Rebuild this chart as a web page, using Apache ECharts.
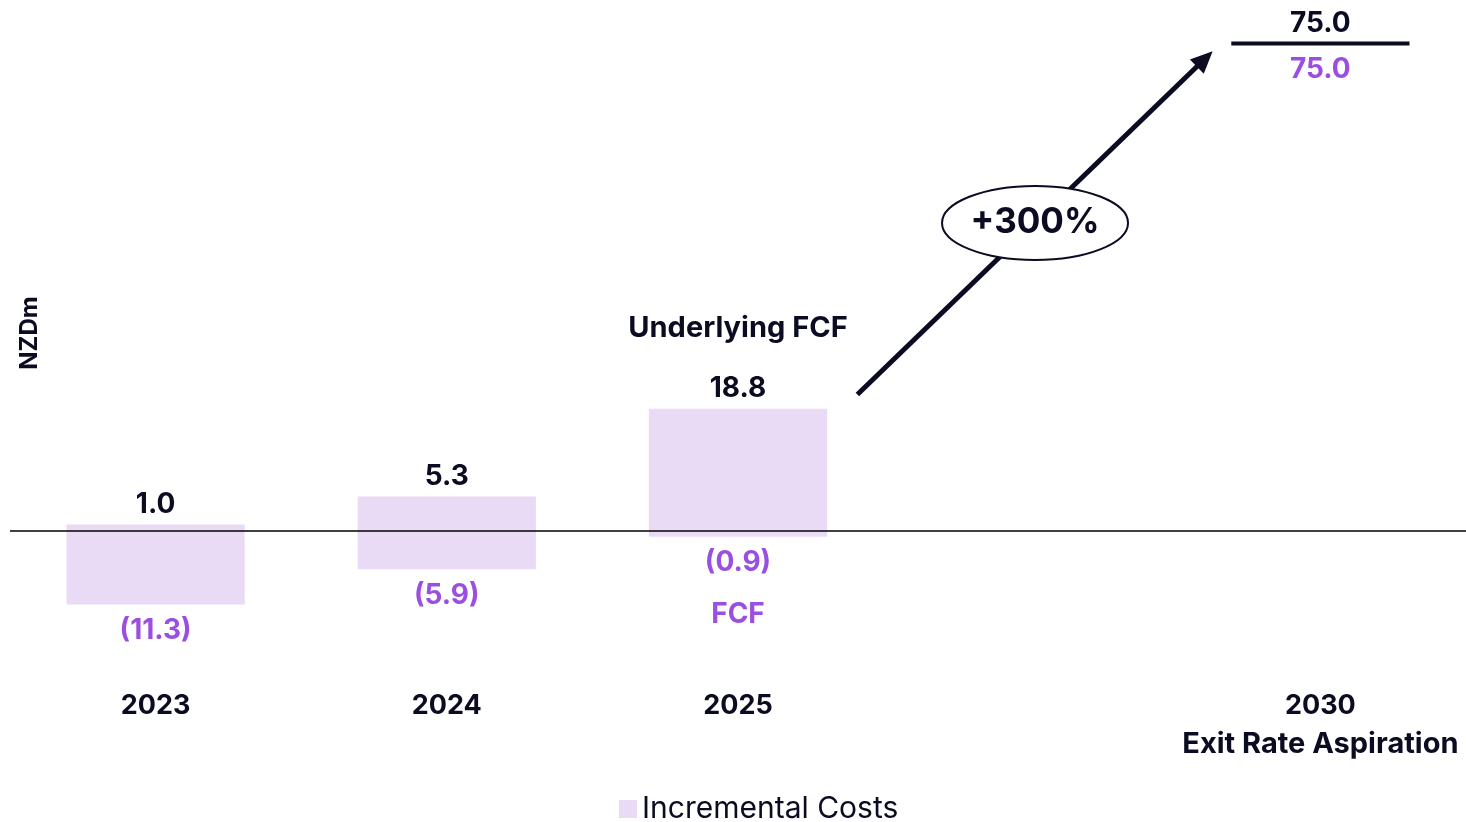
<!DOCTYPE html>
<html>
<head>
<meta charset="utf-8">
<script src="https://cdn.jsdelivr.net/npm/echarts@6/dist/echarts.min.js"></script>
<style>html,body{margin:0;padding:0;background:#fff}#c{width:1466px;height:822px}</style>
</head>
<body>
<div id="c"></div>
<script>
// ---- data ----
const categories = ['2023', '2024', '2025', '', '2030\nExit Rate Aspiration'];
const underlyingFCF = [1.0, 5.3, 18.8, null, 75.0];
const fcf = [-11.3, -5.9, -0.9, null, 75.0];
const highNotes = ['', '', 'Underlying FCF', '', ''];
const lowNotes = ['', '', 'FCF', '', ''];
const seriesName = 'Incremental Costs';
const axisName = 'NZDm';
const growthLabel = '+300%';
const arrowFrom = [2, 21.0];
const arrowTo = [4, 73.8];

// ---- style ----
const NAVY = '#0b0b22';
const PURPLE = '#9b4fe0';
const BAR = '#e9daf6';
const FONT = 'Inter, "Open Sans", sans-serif';

const fmt = v => v < 0 ? '(' + Math.abs(v).toFixed(1) + ')' : v.toFixed(1);

const seriesData = [];
categories.forEach((c, i) => {
  if (underlyingFCF[i] != null) seriesData.push([i, underlyingFCF[i], fcf[i]]);
});

const chart = echarts.init(document.getElementById('c'), null, {renderer: 'canvas'});

function txt(text, x, y, color, size, weight) {
  return {
    type: 'text',
    style: {text: text, x: x, y: y, fill: color, fontSize: size, fontWeight: weight || 'bold',
      fontFamily: FONT, align: 'center', verticalAlign: 'middle'}
  };
}

const option = {
  animation: false,
  grid: {left: 10, right: 0, top: 11, bottom: 135},
  xAxis: {
    type: 'category',
    data: categories,
    axisLine: {show: false},
    axisTick: {show: false},
    axisLabel: {
      margin: 0, verticalAlign: 'top', interval: 0,
      formatter: function (v) {
        const parts = v.split('\n');
        return parts.map((p, k) => '{' + (k === 0 ? 'y' : 's') + '|' + p + '}').join('\n');
      },
      rich: {
        y: {color: NAVY, fontSize: 27, fontWeight: 'bold', fontFamily: FONT, lineHeight: 38},
        s: {color: NAVY, fontSize: 29, fontWeight: 'bold', fontFamily: FONT, lineHeight: 38}
      }
    }
  },
  yAxis: {
    type: 'value', min: -24, max: 80,
    axisLine: {show: false}, axisTick: {show: false},
    axisLabel: {show: false}, splitLine: {show: false}
  },
  legend: {
    left: 619, top: 794, padding: 0,
    itemWidth: 18, itemHeight: 18, itemGap: 8,
    icon: 'rect',
    data: [seriesName],
    textStyle: {color: NAVY, fontSize: 30, fontFamily: FONT}
  },
  series: [{
    name: seriesName,
    type: 'custom',
    itemStyle: {color: BAR},
    encode: {x: 0, y: [1, 2]},
    data: seriesData,
    renderItem: function (params, api) {
      const i = api.value(0), hi = api.value(1), lo = api.value(2);
      const pHi = api.coord([i, hi]);
      const pLo = api.coord([i, lo]);
      const w = api.size([1, 0])[0] * 0.612;
      const children = [];
      if (hi !== lo) {
        children.push({type: 'rect', shape: {x: pHi[0] - w / 2, y: pHi[1], width: w, height: pLo[1] - pHi[1]},
          style: {fill: BAR}});
      } else {
        children.push({type: 'line', shape: {x1: pHi[0] - w / 2, y1: pHi[1], x2: pHi[0] + w / 2, y2: pHi[1]},
          style: {stroke: NAVY, lineWidth: 4}});
      }
      children.push(txt(fmt(hi), pHi[0], pHi[1] - 20, NAVY, 28));
      children.push(txt(fmt(lo), pLo[0], pLo[1] + 26, PURPLE, 28));
      if (highNotes[i]) children.push(txt(highNotes[i], pHi[0], pHi[1] - 81, NAVY, 29));
      if (lowNotes[i]) children.push(txt(lowNotes[i], pLo[0], pLo[1] + 78, PURPLE, 28));
      return {type: 'group', children: children};
    },
    markLine: {
      silent: true, symbol: 'none',
      label: {show: false},
      lineStyle: {color: '#000', width: 1.6, type: 'solid'},
      data: [{yAxis: 0}]
    }
  }]
};
chart.setOption(option);

// ---- annotations anchored in data space ----
const band = chart.convertToPixel({gridIndex: 0}, [1, 0])[0] - chart.convertToPixel({gridIndex: 0}, [0, 0])[0];
const a0 = chart.convertToPixel({gridIndex: 0}, arrowFrom);
const a1 = chart.convertToPixel({gridIndex: 0}, arrowTo);
const sx = a0[0] + 0.41 * band, sy = a0[1];
const ex = a1[0] - 0.37 * band, ey = a1[1];
const ang = Math.atan2(ey - sy, ex - sx);
const headL = 22, headW = 10;
const bx = ex - headL * Math.cos(ang), by = ey - headL * Math.sin(ang);
const px = -Math.sin(ang), py = Math.cos(ang);
const cx = (sx + ex) / 2, cy = (sy + ey) / 2;
const zero = chart.convertToPixel({gridIndex: 0}, [0, 0]);
const top0 = chart.convertToPixel({gridIndex: 0}, [0, 80]);

chart.setOption({
  graphic: [
    {type: 'line', z: 100, shape: {x1: sx, y1: sy, x2: bx + 2 * Math.cos(ang), y2: by + 2 * Math.sin(ang)},
      style: {stroke: NAVY, lineWidth: 5}},
    {type: 'polygon', z: 100, shape: {points: [[ex, ey], [bx + headW * px, by + headW * py], [bx - headW * px, by - headW * py]]},
      style: {fill: NAVY}},
    {type: 'ellipse', z: 101, shape: {cx: cx, cy: cy, rx: 93, ry: 37},
      style: {fill: '#fff', stroke: NAVY, lineWidth: 2}},
    {type: 'text', z: 102, style: {text: growthLabel, x: cx, y: cy, fill: NAVY, fontSize: 35, fontWeight: 'bold',
      fontFamily: FONT, align: 'center', verticalAlign: 'middle'}},
    {type: 'text', z: 102, x: 30, y: (zero[1] + top0[1]) / 2 + 62, rotation: Math.PI / 2,
      style: {text: axisName, fill: NAVY, fontSize: 24, fontWeight: 'bold', fontFamily: FONT,
        align: 'center', verticalAlign: 'middle'}}
  ]
});
</script>
</body>
</html>
